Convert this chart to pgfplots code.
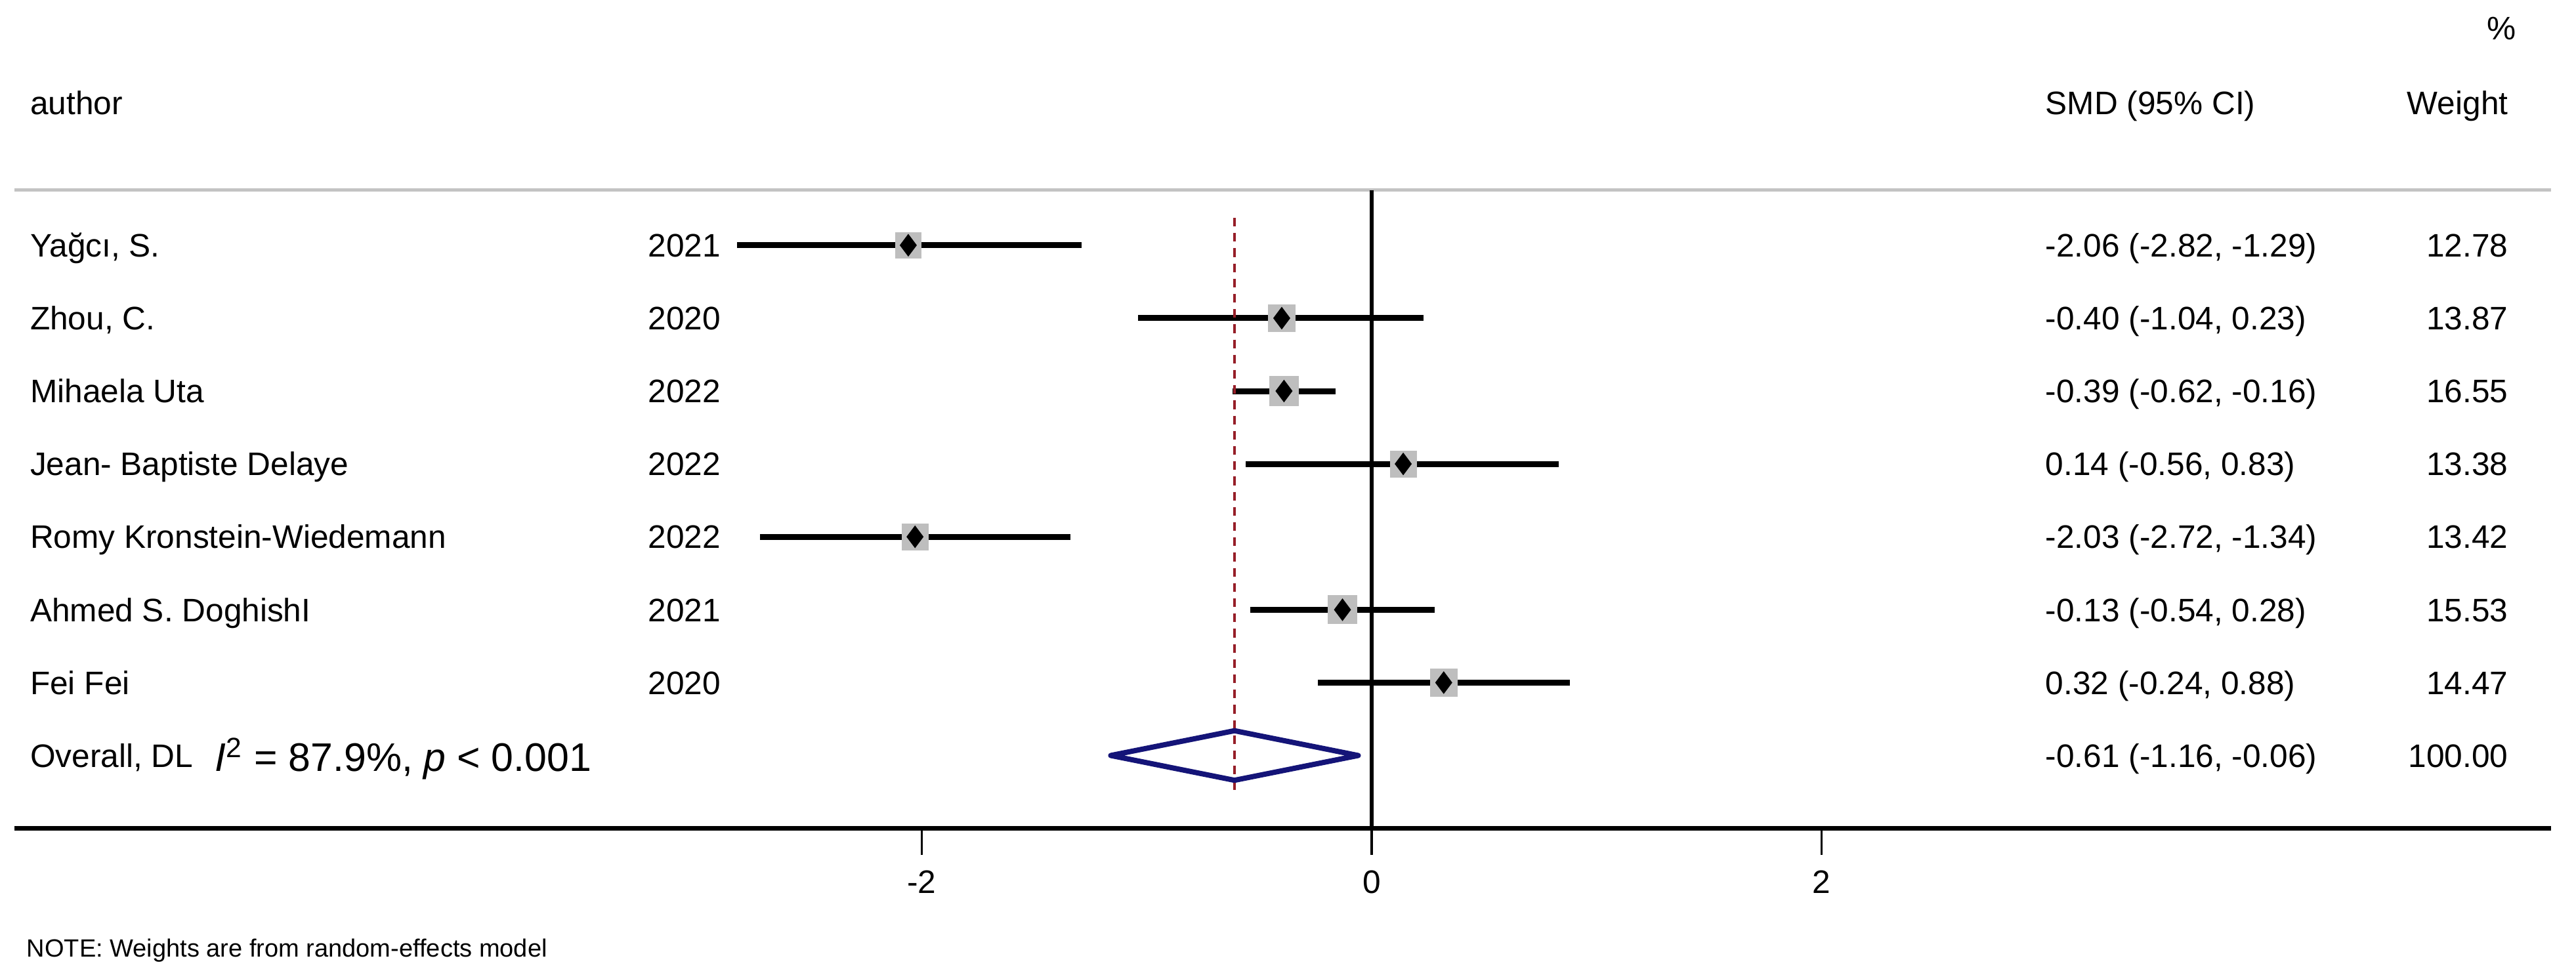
\documentclass[border=0pt]{standalone}
\usepackage{pgfplots}
\pgfplotsset{compat=1.18}
\usepackage{pgfplotstable}
\usepackage{fontspec}
\setmainfont{Liberation Sans}
\definecolor{boxgray}{RGB}{190,190,190}
\definecolor{linegray}{RGB}{195,195,195}
\definecolor{refred}{RGB}{150,30,40}
\definecolor{diamblue}{RGB}{20,20,120}
\newcommand\mf{\fontsize{12.4pt}{14pt}\selectfont}
\newcommand\bigf{\fontsize{15.2pt}{17pt}\selectfont}

% y = row position, es = SMD, lo/hi = 95% CI, w = weight (%), ms = box half-side (pt)
\pgfplotstableread{
y es lo hi w ms
8 -2.06 -2.82 -1.29 12.78 4.80
7 -0.40 -1.04 0.23 13.87 5.01
6 -0.39 -0.62 -0.16 16.55 5.49
5 0.14 -0.56 0.83 13.38 4.92
4 -2.03 -2.72 -1.34 13.42 4.92
3 -0.13 -0.54 0.28 15.53 5.31
2 0.32 -0.24 0.88 14.47 5.12
}\studies

\begin{document}
\begin{tikzpicture}[txt/.style={inner sep=0pt, text height=8.9pt, text depth=0pt, font=\mf}]
\useasboundingbox (-5.5pt,-55.1pt) rectangle (975.75pt,315.65pt);
\begin{axis}[
  scale only axis, width=966.25pt, height=315.65pt,
  xmin=-6.033, xmax=5.242, ymin=0, ymax=11.365,
  axis x line*=bottom, axis y line=none,
  x axis line style={line width=1.8pt, -},
  xtick={-2,0,2}, xticklabels={-2,0,2},
  tick align=outside, major tick length=10pt,
  xtick style={line width=0.8pt, black},
  ytick=\empty,
  xticklabel style={font=\mf, yshift=-2.5pt},
  clip=false,
]
% header separator and reference lines
\addplot[linegray, line width=1.3pt, mark=none] coordinates {(-6.033,8.757) (5.242,8.757)};
\addplot[black, line width=1.4pt, mark=none] coordinates {(0,8.757) (0,0)};
% weight boxes
\addplot[scatter, only marks, mark=square*,
  scatter/use mapped color={draw=boxgray, fill=boxgray},
  visualization depends on={\thisrow{ms} \as \ms},
  scatter/@pre marker code/.append style={/tikz/mark size=\ms pt}]
  table[x=es, y=y] {\studies};
% confidence intervals
\addplot[black, only marks, no markers,
  error bars/.cd, x dir=both, x explicit, error mark=none,
  error bar style={line width=2.25pt, black, solid}]
  table[x=es, y=y, x error plus expr=\thisrow{hi}-\thisrow{es},
        x error minus expr=\thisrow{es}-\thisrow{lo}] {\studies};
% overall effect line
\addplot[refred, line width=0.9pt, dash pattern=on 3.3pt off 2.5pt, mark=none]
  coordinates {(-0.61,8.376) (-0.61,0.50)};
% point estimates
\addplot[only marks, mark=diamond*, mark size=4pt,
  mark options={fill=black, draw=black, line width=0.4pt}]
  table[x=es, y=y] {\studies};
% overall diamond
\addplot[diamblue, line width=2pt, line join=round, mark=none]
  coordinates {(-1.16,1) (-0.61,1.34) (-0.06,1) (-0.61,0.66)} --cycle;

% header
\node[txt, anchor=east] at (axis cs:5.087,10.978) {\%};
\node[txt, anchor=west] at (axis cs:-5.965,9.951) {author};
\node[txt, anchor=west] at (axis cs:2.993,9.951) {SMD (95\% CI)};
\node[txt, anchor=east] at (axis cs:5.053,9.951) {Weight};

% rows
\node[txt, anchor=west] at (axis cs:-5.965,8) {Yağcı, S.};
\node[txt, anchor=west] at (axis cs:-3.218,8) {2021};
\node[txt, anchor=west] at (axis cs:2.993,8) {-2.06 (-2.82, -1.29)};
\node[txt, anchor=east] at (axis cs:5.053,8) {12.78};

\node[txt, anchor=west] at (axis cs:-5.965,7) {Zhou, C.};
\node[txt, anchor=west] at (axis cs:-3.218,7) {2020};
\node[txt, anchor=west] at (axis cs:2.993,7) {-0.40 (-1.04, 0.23)};
\node[txt, anchor=east] at (axis cs:5.053,7) {13.87};

\node[txt, anchor=west] at (axis cs:-5.965,6) {Mihaela Uta};
\node[txt, anchor=west] at (axis cs:-3.218,6) {2022};
\node[txt, anchor=west] at (axis cs:2.993,6) {-0.39 (-0.62, -0.16)};
\node[txt, anchor=east] at (axis cs:5.053,6) {16.55};

\node[txt, anchor=west] at (axis cs:-5.965,5) {Jean- Baptiste Delaye};
\node[txt, anchor=west] at (axis cs:-3.218,5) {2022};
\node[txt, anchor=west] at (axis cs:2.993,5) {0.14 (-0.56, 0.83)};
\node[txt, anchor=east] at (axis cs:5.053,5) {13.38};

\node[txt, anchor=west] at (axis cs:-5.965,4) {Romy Kronstein-Wiedemann};
\node[txt, anchor=west] at (axis cs:-3.218,4) {2022};
\node[txt, anchor=west] at (axis cs:2.993,4) {-2.03 (-2.72, -1.34)};
\node[txt, anchor=east] at (axis cs:5.053,4) {13.42};

\node[txt, anchor=west] at (axis cs:-5.965,3) {Ahmed S. DoghishI};
\node[txt, anchor=west] at (axis cs:-3.218,3) {2021};
\node[txt, anchor=west] at (axis cs:2.993,3) {-0.13 (-0.54, 0.28)};
\node[txt, anchor=east] at (axis cs:5.053,3) {15.53};

\node[txt, anchor=west] at (axis cs:-5.965,2) {Fei Fei};
\node[txt, anchor=west] at (axis cs:-3.218,2) {2020};
\node[txt, anchor=west] at (axis cs:2.993,2) {0.32 (-0.24, 0.88)};
\node[txt, anchor=east] at (axis cs:5.053,2) {14.47};

\node[txt, anchor=west] at (axis cs:-5.965,1) {Overall, DL};
\node[inner sep=0pt, text height=10.9pt, text depth=0pt, font=\bigf, anchor=west] at (axis cs:-5.143,0.98)
  {\textit{I}\textsuperscript{2} = 87.9\%, \textit{p} < 0.001};
\node[txt, anchor=west] at (axis cs:2.993,1) {-0.61 (-1.16, -0.06)};
\node[txt, anchor=east] at (axis cs:5.053,1) {100.00};

% note
\node[inner sep=0pt, text height=6.8pt, text depth=0pt, font=\fontsize{9.5pt}{11pt}\selectfont, anchor=west]
  at (axis cs:-5.980,-1.642) {NOTE: Weights are from random-effects model};
\end{axis}
\end{tikzpicture}
\end{document}
